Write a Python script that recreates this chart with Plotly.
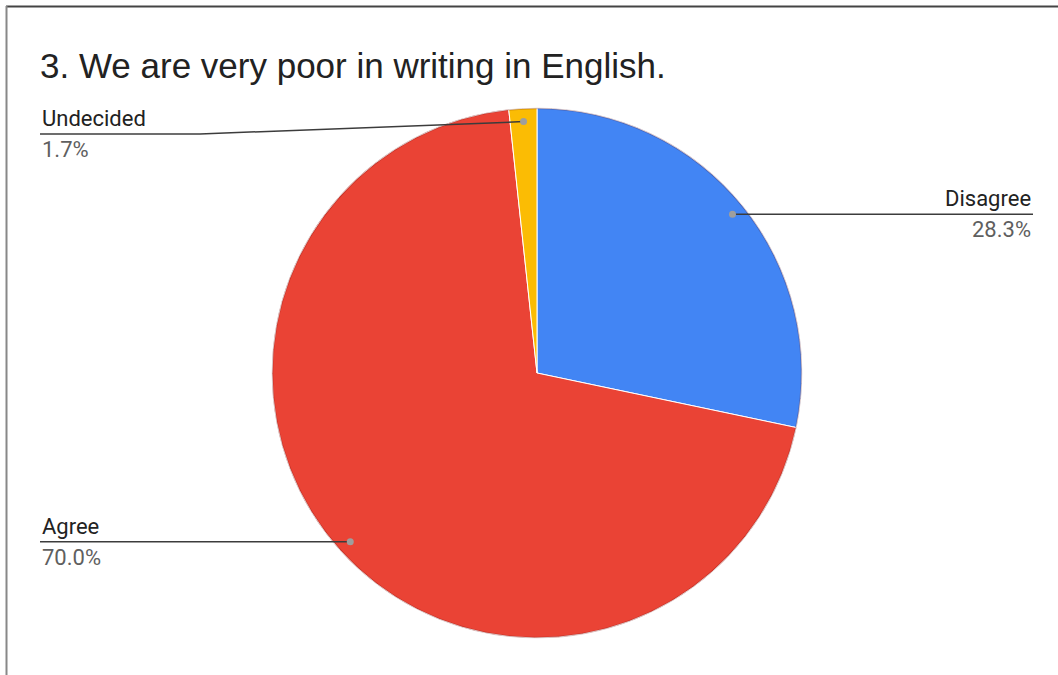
import math
import plotly.graph_objects as go

# Survey answers for statement 3
labels = ["Disagree", "Agree", "Undecided"]
values = [28.3, 70.0, 1.7]
colors = ["#4285F4", "#EA4335", "#FBBC04"]
title_text = "3. We are very poor in writing in English."

W, H = 1058, 675
CX, CY, R = 537, 373, 265  # pie centre and radius in pixels


def px(x):
    return x / W


def py(y):
    return 1 - y / H


fig = go.Figure(
    go.Pie(
        labels=labels,
        values=values,
        sort=False,
        direction="clockwise",
        rotation=0,
        marker=dict(colors=colors, line=dict(color="white", width=1)),
        textinfo="none",
        hoverinfo="label+percent",
        showlegend=False,
        domain=dict(x=[px(CX - R), px(CX + R)], y=[py(CY + R), py(CY - R)]),
    )
)

shapes = []
annotations = []

# soft darker rim around the pie
shapes.append(dict(type="circle", xref="paper", yref="paper",
                   x0=px(CX - R + 0.5), x1=px(CX + R - 0.5), y0=py(CY + R - 0.5), y1=py(CY - R + 0.5),
                   line=dict(color="rgba(90,0,0,0.22)", width=1.5), layer="above"))

# leader lines and outside labels, anchored at each slice's mid angle
total = sum(values)
cum = 0.0
LEFT_X, RIGHT_X = 40, 1033
for name, v in zip(labels, values):
    mid = (cum + v / 2) / total * 2 * math.pi
    cum += v
    dx, dy = CX + 0.95 * R * math.sin(mid), CY - 0.95 * R * math.cos(mid)
    right = math.sin(mid) > 0
    row_y = dy
    pts = [(dx, dy)]
    if dy < 125:
        # keep the label clear of the title: bend the leader line down
        row_y = 134
        pts.append((200, row_y))
    pts.append((RIGHT_X if right else LEFT_X, row_y))
    for (x0, y0), (x1, y1) in zip(pts[:-1], pts[1:]):
        shapes.append(dict(type="line", xref="paper", yref="paper",
                           x0=px(x0), y0=py(y0), x1=px(x1), y1=py(y1),
                           line=dict(color="#3c3c3c", width=1.5)))
    shapes.append(dict(type="circle", xref="paper", yref="paper",
                       x0=px(dx - 3.5), x1=px(dx + 3.5), y0=py(dy + 3.5), y1=py(dy - 3.5),
                       fillcolor="#9e9e9e", line=dict(width=0)))
    tx = RIGHT_X if right else LEFT_X
    anchor = "right" if right else "left"
    annotations.append(dict(text=name, x=px(tx), y=py(row_y - 1), xref="paper", yref="paper",
                            xanchor=anchor, yanchor="bottom", showarrow=False,
                            font=dict(family="Roboto", size=22, color="#222222")))
    annotations.append(dict(text=f"{v:.1f}%", x=px(tx), y=py(row_y + 1), xref="paper", yref="paper",
                            xanchor=anchor, yanchor="top", showarrow=False,
                            font=dict(family="Roboto", size=22, color="#5f5f5f")))

annotations.append(dict(text=title_text, x=px(38), y=py(65), xref="paper", yref="paper",
                        xanchor="left", yanchor="middle", showarrow=False,
                        font=dict(family="Liberation Sans, Arial", size=35, color="#222222")))

# chart frame: top and left edges
shapes.append(dict(type="line", xref="paper", yref="paper", x0=px(6), x1=1, y0=py(6.5), y1=py(6.5),
                   line=dict(color="#444444", width=2)))
shapes.append(dict(type="line", xref="paper", yref="paper", x0=px(6.5), x1=px(6.5), y0=py(6), y1=0,
                   line=dict(color="#888888", width=2)))

fig.update_layout(
    width=W, height=H,
    margin=dict(l=0, r=0, t=0, b=0),
    paper_bgcolor="white", plot_bgcolor="white",
    shapes=shapes, annotations=annotations,
)

fig.write_html("out.html")
